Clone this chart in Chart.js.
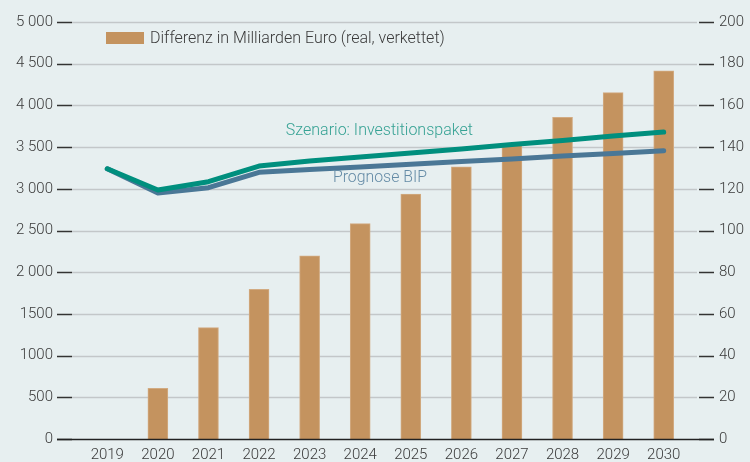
<!DOCTYPE html>
<html>
<head>
<meta charset="utf-8">
<script src="https://cdn.jsdelivr.net/npm/chart.js@4"></script>
<style>
  html, body { margin: 0; padding: 0; background: #e7eff0; }
  #wrap { width: 750px; height: 462px; }
</style>
</head>
<body>
<div id="wrap"><canvas id="chart" width="750" height="462"></canvas></div>
<script>
const years = ['2019', '2020', '2021', '2022', '2023', '2024', '2025', '2026', '2027', '2028', '2029', '2030']
// Differenz in Mrd. Euro (rechte Achse)
const differenz = [null, 24.3, 53.4, 71.8, 87.8, 103.3, 117.5, 130.5, 141, 154.3, 166.1, 176.6]
// BIP in Mrd. Euro (linke Achse)
const szenario = [3240, 2985, 3085, 3273, 3333, 3381, 3429, 3477, 3531, 3579, 3633, 3680]
const prognose = [3240, 2950, 3013, 3197, 3231, 3261, 3293, 3326, 3357, 3393, 3424, 3457]
const leftTicks = ['0', '500', '1000', '1500', '2 000', '2 500', '3 000', '3 500', '4 000', '4 500', '5 000']
const rightTicks = ['0', '20', '40', '60', '80', '100', '120', '140', '160', '180', '200']

const FONT = 'Roboto'
const TEXT = '#3a3a3a'

// Gitterlinien, Striche und Beschriftungen
const decor = {
  id: 'decor',
  beforeDatasetsDraw(chart) {
    const { ctx, chartArea: a, scales } = chart
    const y = scales.y
    ctx.save()
    ctx.lineWidth = 1.5
    leftTicks.forEach((t, i) => {
      const py = Math.round(y.getPixelForValue(i * 500)) + 0.5
      if (i > 0) {
        ctx.strokeStyle = '#c3c7c9'
        ctx.beginPath(); ctx.moveTo(a.left - 10, py); ctx.lineTo(a.right + 8, py); ctx.stroke()
      }
      ctx.strokeStyle = '#333'
      ctx.beginPath(); ctx.moveTo(a.left - 25, py); ctx.lineTo(a.left - 10, py); ctx.stroke()
      ctx.beginPath(); ctx.moveTo(a.right + 10, py); ctx.lineTo(a.right + 25, py); ctx.stroke()
    })
    ctx.restore()
  },
  afterDatasetsDraw(chart) {
    const { ctx, chartArea: a, scales } = chart
    const py = Math.round(scales.y.getPixelForValue(0)) + 0.5
    ctx.save()
    ctx.strokeStyle = '#222'
    ctx.lineWidth = 1.5
    ctx.beginPath(); ctx.moveTo(a.left - 25, py); ctx.lineTo(a.right + 25, py); ctx.stroke()
    ctx.restore()
  },
  afterDraw(chart) {
    const { ctx, scales } = chart
    const x = scales.x, y = scales.y
    ctx.save()
    ctx.textBaseline = 'middle'
    ctx.textAlign = 'left'
    // Legende
    ctx.fillStyle = '#c4935f'
    ctx.fillRect(106, 32, 38, 12)
    ctx.fillStyle = TEXT
    ctx.font = '300 16px ' + FONT
    ctx.fillText('Differenz in Milliarden Euro (real, verkettet)', 150, 39, 298)
    // Linienbeschriftungen
    ctx.font = '300 17px ' + FONT
    ctx.fillStyle = '#36a294'
    ctx.fillText('Szenario: Investitionspaket', x.getPixelForValue(3.53), y.getPixelForValue(3697), 187)
    ctx.fillStyle = '#648ba6'
    ctx.fillText('Prognose BIP', x.getPixelForValue(4.46), y.getPixelForValue(3130), 94)
    ctx.restore()
  }
}

const tickFont = { family: FONT, size: 15, weight: '300' }

new Chart(document.getElementById('chart'), {
  data: {
    labels: years,
    datasets: [
      {
        type: 'line',
        label: 'Szenario: Investitionspaket',
        data: szenario,
        yAxisID: 'y',
        borderColor: '#008f7e',
        borderWidth: 5,
        borderCapStyle: 'round',
        borderJoinStyle: 'round',
        pointRadius: 0,
        order: 0
      },
      {
        type: 'line',
        label: 'Prognose BIP',
        data: prognose,
        yAxisID: 'y',
        borderColor: '#4a7796',
        borderWidth: 5,
        borderCapStyle: 'round',
        borderJoinStyle: 'round',
        pointRadius: 0,
        order: 1
      },
      {
        type: 'bar',
        label: 'Differenz in Milliarden Euro (real, verkettet)',
        data: differenz,
        yAxisID: 'y1',
        backgroundColor: '#c4935f',
        borderColor: '#d2ab82',
        borderWidth: { top: 1, left: 1, right: 1, bottom: 0 },
        borderSkipped: 'bottom',
        barThickness: 20,
        order: 2
      }
    ]
  },
  options: {
    responsive: false,
    animation: false,
    layout: { padding: { top: 22, left: 0, right: 0, bottom: 0 } },
    plugins: { legend: { display: false }, tooltip: { enabled: false } },
    scales: {
      x: {
        grid: { display: false, drawTicks: false },
        border: { display: false },
        ticks: { color: TEXT, font: tickFont, padding: 7, maxRotation: 0 },
        afterFit: s => { s.height = 23 }
      },
      y: {
        position: 'left',
        min: 0,
        max: 5000,
        grid: { display: false, drawTicks: true, tickLength: 29 },
        border: { display: false },
        ticks: { stepSize: 500, color: TEXT, font: tickFont, padding: 0, callback: (v, i) => leftTicks[i] },
        afterFit: s => { s.width = 82 }
      },
      y1: {
        position: 'right',
        min: 0,
        max: 200,
        grid: { display: false, drawTicks: true, tickLength: 30 },
        border: { display: false },
        ticks: { stepSize: 20, color: TEXT, font: tickFont, padding: 0, callback: (v, i) => rightTicks[i] },
        afterFit: s => { s.width = 61 }
      }
    }
  },
  plugins: [decor]
})
</script>
</body>
</html>
